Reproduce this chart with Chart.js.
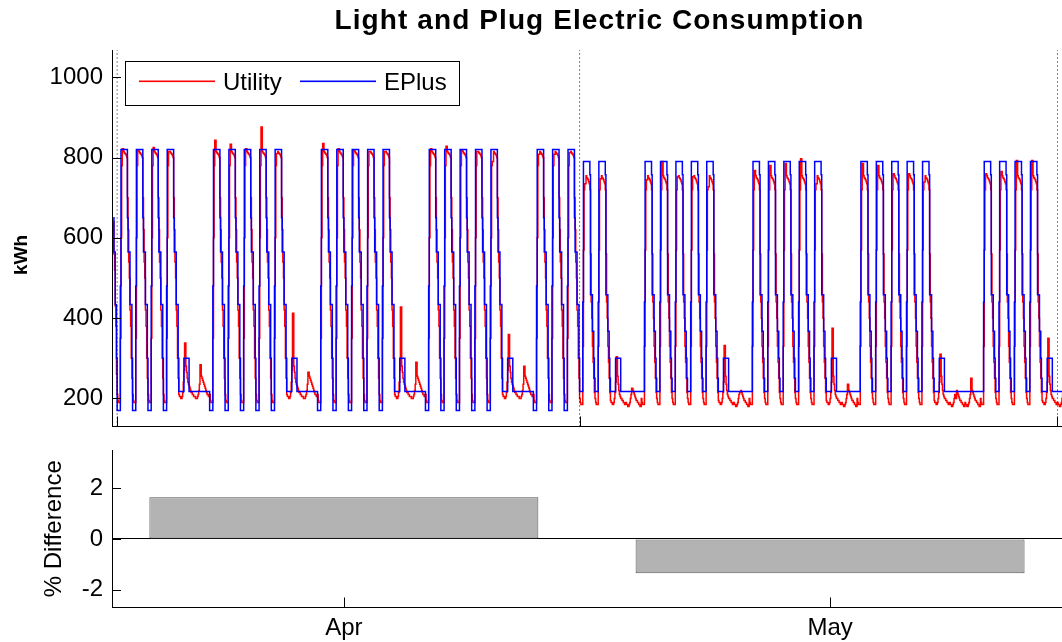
<!DOCTYPE html>
<html>
<head>
<meta charset="utf-8">
<title>Light and Plug Electric Consumption</title>
<script src="https://cdn.jsdelivr.net/npm/chart.js@4.4.1/dist/chart.umd.min.js"></script>
<style>
  html, body { margin: 0; padding: 0; background: #fff; overflow: hidden; }
  #wrap { position: relative; width: 1062px; height: 642px; overflow: hidden; }
  #top { position: absolute; left: 0; top: 0; }
  #bottom { position: absolute; left: 0; top: 440px; }
</style>
</head>
<body>
<div id="wrap">
  <canvas id="top" width="1090" height="440"></canvas>
  <canvas id="bottom" width="1090" height="202"></canvas>
</div>
<script>
// ---- data (hours counted from the start of the first billing period) ----
const titleText = "Light and Plug Electric Consumption";
const yTitleTop = "kWh";
const yTitleBottom = "% Difference";

const billingBounds = [0, 720, 1464];
const xRange = [-8, 1510];
const yRangeTop = [130, 1068];
const yTicksTop = [200, 400, 600, 800, 1000];
const yRangeBottom = [-2.71, 3.52];
const yTicksBottom = [-2, 0, 2];

const utilityColor = "rgb(255, 0, 0)";
const ePlusColor = "rgb(0, 0, 255)";
const legendLabels = ["Utility", "EPlus"];
const legendColors = [utilityColor, ePlusColor];

// tail of the day before the first period
const preHours = [-6, -5, -4, -3, -2, -1];
const ePlusPre = [650, 565, 565, 434, 434, 300];
const utilityPre = [640, 560, 520, 430, 380, 260];

// W weekday, Sa saturday, Su sunday, H holiday
const dayTypes = [
    "W", "W", "W", "W", "Sa", "Su",
    "W", "W", "W", "W", "W", "Sa", "Su",
    "W", "W", "W", "W", "W", "Sa", "Su",
    "W", "W", "W", "W", "W", "Sa", "Su",
    "W", "W", "W", "W", "W", "Sa", "Su",
    "W", "W", "W", "W", "W", "Sa", "Su",
    "W", "W", "W", "W", "W", "Sa", "Su",
    "W", "W", "W", "W", "W", "Sa", "Su", "H",
    "W", "W", "W", "W", "Sa", "Su"
];

// EPlus hourly schedules (kWh)
const ePlusWeekdayApr = [170, 170, 170, 170, 170, 480, 820, 820, 820, 820, 820, 820, 820, 820, 820, 820, 650, 565, 565, 565, 434, 434, 434, 300];
const ePlusWeekdayMay = [217, 217, 217, 217, 217, 440, 790, 790, 790, 790, 790, 790, 790, 790, 790, 790, 757, 458, 458, 458, 367, 367, 300, 250];
const ePlusSaturday = [217, 217, 217, 217, 217, 217, 217, 217, 300, 300, 300, 300, 300, 300, 300, 300, 217, 217, 217, 217, 217, 217, 217, 217];
const ePlusSunday = [217, 217, 217, 217, 217, 217, 217, 217, 217, 217, 217, 217, 217, 217, 217, 217, 217, 217, 217, 217, 217, 217, 217, 217];

// Utility hourly shapes; null hours take that day's high reading below
const utilWeekdayApr = [210, 195, 190, 190, 190, 350, 600, 780, null, null, 815, 812, 810, 808, 805, 800, 700, 620, 540, 500, 420, 380, 300, 250];
const utilWeekdayMay = [200, 190, 185, 185, 185, 330, 570, 720, null, null, 755, 750, 748, 745, 740, 735, 720, 560, 440, 400, 330, 290, 250, 215];
const utilSaturdayApr = [210, 205, 205, 200, 200, 205, 215, 240, 270, null, null, 280, 265, 250, 240, 235, 230, 225, 220, 215, 215, 210, 210, 205];
const utilSundayApr = [205, 205, 200, 200, 200, 205, 210, 220, 235, null, null, 255, 250, 245, 240, 235, 230, 225, 220, 215, 210, 210, 205, 205];
const utilSaturdayMay = [195, 190, 190, 185, 185, 190, 200, 215, 240, null, null, 255, 235, 220, 210, 205, 200, 200, 195, 195, 190, 190, 185, 185];
const utilSundayMay = [190, 185, 185, 180, 180, 185, 190, 200, 210, null, null, 220, 215, 210, 205, 200, 195, 195, 190, 190, 185, 185, 180, 180];

const utilDayHigh = [
    822, 818, 825, 815, 338, 284,
    843, 833, 822, 876, 810, 412, 265,
    835, 822, 818, 815, 815, 428, 290,
    822, 828, 818, 815, 790, 359, 280,
    808, 808, 812, 735, 747, 304, 225,
    745, 790, 752, 752, 727, 332, 215,
    768, 780, 785, 797, 735, 375, 235,
    785, 780, 760, 760, 739, 310, 200, 250,
    760, 765, 793, 793, 350, 205
];

// bottom panel
const barCenters = [353, 1110];
const barLabels = ["Apr", "May"];
const pctDiff = [1.65, -1.36];

// ---- build hourly series ----
const hourX = [];
const ePlusY = [];
const utilityY = [];
preHours.forEach((h, i) => {
    hourX.push(h);
    ePlusY.push(ePlusPre[i]);
    utilityY.push(utilityPre[i]);
});
dayTypes.forEach((type, d) => {
    const april = d * 24 < billingBounds[1];
    let eRow, uRow;
    if (type === "W") {
        eRow = april ? ePlusWeekdayApr : ePlusWeekdayMay;
        uRow = april ? utilWeekdayApr : utilWeekdayMay;
    } else if (type === "Sa") {
        eRow = ePlusSaturday;
        uRow = april ? utilSaturdayApr : utilSaturdayMay;
    } else {
        eRow = ePlusSunday;
        uRow = april ? utilSundayApr : utilSundayMay;
    }
    for (let h = 0; h < 24; h++) {
        hourX.push(d * 24 + h);
        ePlusY.push(eRow[h]);
        utilityY.push(uRow[h] === null ? utilDayHigh[d] : uRow[h]);
    }
});

Chart.defaults.font.family = "'Liberation Sans', Arial, Helvetica, sans-serif";
Chart.defaults.color = "#000";

// keep axis labels from shrinking the plot area
function noPad(axis) {
    axis.paddingTop = 0;
    axis.paddingBottom = 0;
    axis.paddingLeft = 0;
    axis.paddingRight = 0;
}

// MATLAB style ticks pointing into the plot
const innerTicks = {
    id: "innerTicks",
    afterDraw(chart) {
        const { ctx, chartArea, scales } = chart;
        ctx.save();
        ctx.strokeStyle = "#000";
        ctx.lineWidth = 1;
        scales.y.ticks.forEach(t => {
            const y = Math.round(scales.y.getPixelForValue(t.value)) + 0.5;
            ctx.beginPath();
            ctx.moveTo(chartArea.left, y);
            ctx.lineTo(chartArea.left + 9, y);
            ctx.stroke();
        });
        scales.x.ticks.forEach(t => {
            const x = Math.round(scales.x.getPixelForValue(t.value)) + 0.5;
            ctx.beginPath();
            ctx.moveTo(x, chartArea.bottom);
            ctx.lineTo(x, chartArea.bottom - 10);
            ctx.stroke();
        });
        ctx.restore();
    }
};

const titlePlugin = {
    id: "titlePlugin",
    afterDraw(chart) {
        const { ctx, chartArea } = chart;
        ctx.save();
        ctx.fillStyle = "#000";
        ctx.textBaseline = "middle";
        ctx.textAlign = "center";
        ctx.font = "bold 28px 'Liberation Sans', Arial, sans-serif";
        ctx.letterSpacing = "1.1px";
        ctx.fillText(titleText, (chartArea.left + chartArea.right) / 2, 21);
        ctx.letterSpacing = "0px";
        // y axis label
        ctx.translate(22, 255);
        ctx.rotate(-Math.PI / 2);
        ctx.font = "bold 19px 'Liberation Sans', Arial, sans-serif";
        ctx.fillText(yTitleTop, 0, 0);
        ctx.restore();
    }
};

// legend inside the axes with a box
const boxLegend = {
    id: "boxLegend",
    afterDraw(chart) {
        const { ctx } = chart;
        ctx.save();
        ctx.setLineDash([]);
        ctx.fillStyle = "#fff";
        ctx.fillRect(125.5, 61.5, 334, 44);
        ctx.strokeStyle = "#000";
        ctx.lineWidth = 1;
        ctx.strokeRect(125.5, 61.5, 334, 44);
        ctx.font = "24px 'Liberation Sans', Arial, sans-serif";
        ctx.textBaseline = "middle";
        ctx.textAlign = "left";
        const starts = [139, 300];
        legendLabels.forEach((label, i) => {
            const x0 = starts[i];
            ctx.fillStyle = legendColors[i];
            ctx.fillRect(x0, 80.5, 76, 1.6);
            ctx.fillStyle = "#000";
            ctx.fillText(label, x0 + 84, 83);
        });
        ctx.restore();
    }
};

const boundSets = billingBounds.map(b => ({
    label: "period",
    data: [{ x: b, y: yRangeTop[0] }, { x: b, y: yRangeTop[1] }],
    borderColor: "#000",
    borderWidth: 1,
    borderDash: [1, 3],
    pointRadius: 0,
    order: 0
}));

new Chart(document.getElementById("top"), {
    type: "line",
    data: {
        datasets: [
            ...boundSets,
            {
                label: legendLabels[1],
                data: hourX.map((x, i) => ({ x: x, y: ePlusY[i] })),
                borderColor: ePlusColor,
                borderWidth: 1.5,
                stepped: true,
                pointRadius: 0,
                order: 1
            },
            {
                label: legendLabels[0],
                data: hourX.map((x, i) => ({ x: x, y: utilityY[i] })),
                borderColor: utilityColor,
                borderWidth: 1.5,
                stepped: true,
                pointRadius: 0,
                order: 2
            }
        ]
    },
    options: {
        responsive: false,
        animation: false,
        events: [],
        layout: { padding: { top: 50, right: 3, left: 0, bottom: 0 } },
        plugins: { legend: { display: false }, title: { display: false }, tooltip: { enabled: false } },
        scales: {
            x: {
                type: "linear",
                min: xRange[0],
                max: xRange[1],
                offset: false,
                grid: { display: false, drawTicks: false },
                border: { display: true, color: "#000", width: 1 },
                ticks: { display: false },
                afterBuildTicks: axis => { axis.ticks = billingBounds.map(v => ({ value: v })); },
                afterFit: axis => { axis.height = 13.5; noPad(axis); }
            },
            y: {
                type: "linear",
                min: yRangeTop[0],
                max: yRangeTop[1],
                grid: { display: false, drawTicks: false },
                border: { display: true, color: "#000", width: 1 },
                ticks: { padding: 9, font: { size: 24 }, color: "#000", callback: v => String(v) },
                afterBuildTicks: axis => { axis.ticks = yTicksTop.map(v => ({ value: v })); },
                afterFit: axis => { axis.width = 112; noPad(axis); }
            }
        }
    },
    plugins: [titlePlugin, innerTicks, boxLegend]
});

new Chart(document.getElementById("bottom"), {
    type: "bar",
    data: {
        datasets: [{
            label: yTitleBottom,
            data: barCenters.map((x, i) => ({ x: x, y: pctDiff[i] })),
            backgroundColor: "#b3b3b3",
            borderColor: "#555",
            borderWidth: 1,
            borderSkipped: false,
            barPercentage: 0.8,
            categoryPercentage: 1
        }]
    },
    options: {
        responsive: false,
        animation: false,
        events: [],
        layout: { padding: { top: 10, right: 3, left: 0, bottom: 0 } },
        plugins: { legend: { display: false }, tooltip: { enabled: false } },
        scales: {
            x: {
                type: "linear",
                min: xRange[0],
                max: xRange[1],
                offset: false,
                grid: { display: false, drawTicks: false },
                border: { display: true, color: "#000", width: 1 },
                ticks: {
                    padding: 6, font: { size: 24 }, color: "#000", maxRotation: 0, autoSkip: false,
                    callback: v => { const i = barCenters.indexOf(v); return i >= 0 ? barLabels[i] : ""; }
                },
                afterBuildTicks: axis => { axis.ticks = barCenters.map(v => ({ value: v })); },
                afterFit: axis => { axis.height = 34.5; noPad(axis); }
            },
            y: {
                type: "linear",
                min: yRangeBottom[0],
                max: yRangeBottom[1],
                grid: {
                    display: true, drawTicks: false, lineWidth: 1,
                    color: c => (c.tick && c.tick.value === 0 ? "#000" : "rgba(0,0,0,0)")
                },
                border: { display: true, color: "#000", width: 1 },
                ticks: { padding: 9, font: { size: 24 }, color: "#000", callback: v => String(v) },
                title: {
                    display: true, text: yTitleBottom, color: "#000",
                    font: { size: 24 }, padding: { top: 40, bottom: 0 }
                },
                afterBuildTicks: axis => { axis.ticks = yTicksBottom.map(v => ({ value: v })); },
                afterFit: axis => { axis.width = 112; noPad(axis); }
            }
        }
    },
    plugins: [innerTicks]
});
</script>
</body>
</html>
